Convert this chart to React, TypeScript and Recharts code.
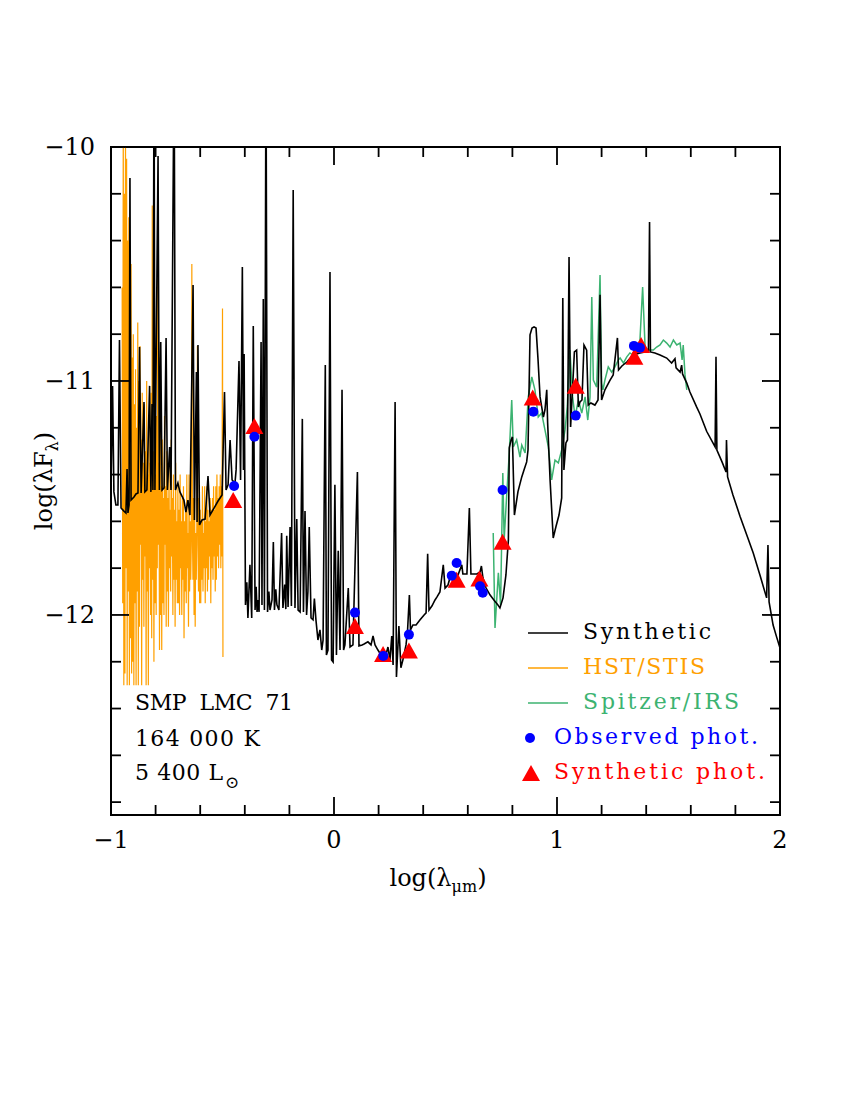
import React from "react";
import { ComposedChart, Line, Scatter, XAxis, YAxis, ReferenceArea } from "recharts";

// page + plot box (px)
const W = 850;
const H = 1100;
const PLOT = { left: 111, right: 780, top: 147, bottom: 815 };
const FONT = "'DejaVu Serif', serif";

const X_DOMAIN: [number, number] = [-1, 2];
const Y_DOMAIN: [number, number] = [-12.855, -10];
const xTicks = [-1, -0.8, -0.6, -0.4, -0.2, 0, 0.2, 0.4, 0.6, 0.8, 1, 1.2, 1.4, 1.6, 1.8, 2];
const yTicks = [-12.8, -12.6, -12.4, -12.2, -12, -11.8, -11.6, -11.4, -11.2, -11, -10.8, -10.6, -10.4, -10.2, -10];

// log(lambda_um), log(lambda F_lambda)
const synthetic: [number, number][] = [
  [-1.0, -11.474], [-0.993, -11.021], [-0.987, -11.474], [-0.978, -11.53], [-0.969, -11.53],
  [-0.962, -10.825], [-0.955, -11.543], [-0.942, -11.556], [-0.933, -11.564], [-0.928, -11.376],
  [-0.924, -11.564], [-0.919, -11.53], [-0.915, -10.132], [-0.91, -11.509], [-0.897, -11.496],
  [-0.888, -11.483], [-0.879, -11.479], [-0.872, -10.855], [-0.865, -11.479], [-0.852, -11.09],
  [-0.848, -11.474], [-0.839, -11.466], [-0.827, -11.021], [-0.821, -11.474], [-0.816, -11.098],
  [-0.812, -11.466], [-0.807, -9.6], [-0.803, -11.466], [-0.789, -10.038], [-0.783, -11.466],
  [-0.777, -10.833], [-0.771, -11.466], [-0.762, -11.457], [-0.753, -10.816], [-0.747, -11.466],
  [-0.737, -11.282], [-0.731, -11.466], [-0.717, -9.6], [-0.711, -11.466], [-0.7, -11.436],
  [-0.691, -11.474], [-0.673, -11.509], [-0.664, -11.56], [-0.655, -11.509], [-0.646, -11.573],
  [-0.632, -10.59], [-0.626, -11.594], [-0.617, -10.962], [-0.614, -11.603], [-0.61, -10.846],
  [-0.603, -11.615], [-0.592, -11.594], [-0.578, -11.59], [-0.565, -11.406], [-0.556, -11.573],
  [-0.538, -11.543], [-0.52, -11.513], [-0.502, -11.487], [-0.491, -11.047], [-0.484, -11.466],
  [-0.475, -11.444], [-0.466, -11.252], [-0.457, -11.423], [-0.444, -11.436], [-0.439, -11.38],
  [-0.426, -10.915], [-0.419, -11.423], [-0.411, -10.513], [-0.406, -11.38], [-0.403, -10.885],
  [-0.397, -11.957], [-0.391, -11.86], [-0.386, -12.013], [-0.377, -11.786], [-0.369, -12.013],
  [-0.362, -10.765], [-0.354, -11.979], [-0.349, -11.88], [-0.345, -11.987], [-0.341, -11.936],
  [-0.336, -11.987], [-0.327, -10.833], [-0.323, -11.957], [-0.317, -10.65], [-0.312, -11.979],
  [-0.305, -9.6], [-0.298, -11.987], [-0.292, -11.9], [-0.287, -11.979], [-0.278, -11.936],
  [-0.272, -11.688], [-0.267, -11.979], [-0.261, -11.89], [-0.256, -11.957], [-0.247, -11.979],
  [-0.235, -11.65], [-0.229, -11.97], [-0.221, -11.87], [-0.216, -11.975], [-0.212, -11.662],
  [-0.206, -11.966], [-0.197, -11.624], [-0.191, -11.962], [-0.183, -10.184], [-0.175, -11.97],
  [-0.167, -11.59], [-0.161, -11.979], [-0.152, -11.987], [-0.142, -11.162], [-0.137, -11.987],
  [-0.13, -11.556], [-0.123, -12.0], [-0.117, -11.9], [-0.111, -11.624], [-0.103, -12.013],
  [-0.094, -12.021], [-0.088, -11.93], [-0.081, -12.021], [-0.072, -12.107], [-0.063, -12.064],
  [-0.055, -12.15], [-0.049, -12.107], [-0.039, -10.932], [-0.034, -12.171], [-0.027, -12.15],
  [-0.018, -10.534], [-0.011, -12.192], [-0.004, -12.201], [0.004, -11.444], [0.011, -12.171],
  [0.019, -11.726], [0.027, -12.15], [0.036, -11.038], [0.043, -12.15], [0.049, -12.128],
  [0.064, -11.885], [0.072, -12.137], [0.085, -12.128], [0.105, -11.389], [0.112, -12.132],
  [0.126, -12.128], [0.135, -12.124], [0.152, -12.115], [0.166, -12.128], [0.175, -12.09],
  [0.184, -12.128], [0.197, -12.15], [0.211, -12.171], [0.22, -12.158], [0.229, -12.184],
  [0.242, -12.137], [0.251, -12.192], [0.259, -12.09], [0.265, -12.214], [0.274, -11.09],
  [0.28, -12.265], [0.291, -12.047], [0.3, -12.226], [0.309, -12.192], [0.323, -12.128],
  [0.33, -12.064], [0.338, -11.915], [0.343, -12.064], [0.354, -12.043], [0.368, -12.043],
  [0.386, -12.021], [0.404, -12.0], [0.413, -11.991], [0.42, -11.739], [0.426, -11.979],
  [0.439, -11.962], [0.453, -11.936], [0.462, -11.923], [0.475, -11.902], [0.49, -11.786],
  [0.498, -11.885], [0.511, -11.872], [0.52, -11.842], [0.529, -11.833], [0.543, -11.825],
  [0.556, -11.829], [0.573, -11.786], [0.578, -11.825], [0.596, -11.825], [0.607, -11.543],
  [0.614, -11.825], [0.628, -11.825], [0.641, -11.825], [0.655, -11.816], [0.661, -11.791],
  [0.668, -11.842], [0.682, -11.885], [0.7, -11.915], [0.717, -11.936], [0.735, -11.957],
  [0.744, -11.97], [0.758, -11.927], [0.771, -11.829], [0.782, -11.679], [0.786, -11.286],
  [0.794, -11.252], [0.8, -11.239], [0.809, -11.573], [0.825, -11.473], [0.842, -11.41],
  [0.852, -11.38], [0.864, -11.346], [0.87, -11.295], [0.879, -10.803], [0.888, -10.774],
  [0.897, -10.769], [0.906, -10.774], [0.915, -10.91], [0.924, -11.068], [0.939, -11.154],
  [0.946, -11.124], [0.954, -11.038], [0.958, -11.179], [0.969, -11.423], [0.983, -11.671],
  [0.996, -11.62], [1.009, -11.573], [1.021, -11.5], [1.026, -10.645], [1.031, -11.38],
  [1.04, -11.265], [1.047, -11.252], [1.054, -10.47], [1.061, -11.197], [1.067, -11.081],
  [1.078, -10.876], [1.088, -10.868], [1.096, -11.111], [1.103, -11.09], [1.112, -11.081],
  [1.121, -10.846], [1.133, -10.868], [1.14, -11.103], [1.152, -11.094], [1.17, -11.103],
  [1.184, -11.081], [1.193, -10.632], [1.2, -11.081], [1.215, -11.038], [1.238, -10.996],
  [1.252, -10.974], [1.271, -10.816], [1.276, -10.953], [1.291, -10.936], [1.313, -10.919],
  [1.341, -10.889], [1.372, -10.88], [1.395, -10.876], [1.41, -10.876], [1.415, -10.321],
  [1.419, -10.876], [1.439, -10.88], [1.462, -10.889], [1.492, -10.902], [1.514, -10.923],
  [1.529, -10.905], [1.534, -10.944], [1.552, -10.962], [1.559, -10.932], [1.563, -10.97],
  [1.582, -11.009], [1.596, -11.047], [1.626, -11.111], [1.641, -11.141], [1.671, -11.215],
  [1.709, -11.282], [1.713, -10.897], [1.717, -11.295], [1.74, -11.346], [1.758, -11.389],
  [1.76, -11.252], [1.765, -11.41], [1.789, -11.487], [1.821, -11.579], [1.851, -11.658],
  [1.88, -11.735], [1.91, -11.829], [1.94, -11.927], [1.946, -11.701], [1.951, -11.944],
  [1.969, -12.043], [1.986, -12.098], [2.0, -12.141],
];

const hstStis: [number, number][] = [
  [-0.95, -10.6], [-0.9475, -11.95], [-0.945, -9.8], [-0.9425, -12.3], [-0.94, -10.2],
  [-0.9375, -12.25], [-0.935, -9.9], [-0.9325, -11.8], [-0.93, -10.05], [-0.9275, -12.3],
  [-0.925, -10.4], [-0.9225, -11.9], [-0.92, -10.3], [-0.9175, -12.3], [-0.915, -10.7],
  [-0.9125, -12.1], [-0.91, -10.5], [-0.9075, -12.25], [-0.905, -10.9], [-0.9025, -12.2],
  [-0.9, -10.8], [-0.8975, -12.3], [-0.895, -11.1], [-0.8925, -11.95], [-0.89, -10.95],
  [-0.8875, -12.3], [-0.885, -11.2], [-0.8825, -11.9], [-0.88, -10.75], [-0.8775, -12.3],
  [-0.875, -11.0], [-0.8725, -12.05], [-0.87, -10.85], [-0.8675, -11.7], [-0.865, -11.25],
  [-0.8625, -12.3], [-0.86, -11.05], [-0.8575, -11.85], [-0.855, -11.35], [-0.8525, -12.05],
  [-0.85, -11.1], [-0.8475, -11.75], [-0.845, -11.3], [-0.8425, -12.3], [-0.84, -11.0],
  [-0.8375, -11.9], [-0.835, -11.4], [-0.8325, -12.3], [-0.83, -11.15], [-0.8275, -11.8],
  [-0.825, -11.35], [-0.8225, -12.0], [-0.82, -11.05], [-0.8175, -12.1], [-0.815, -10.25],
  [-0.8125, -11.85], [-0.81, -11.3], [-0.8075, -12.2], [-0.805, -11.2], [-0.8025, -11.95],
  [-0.8, -11.4], [-0.7975, -12.0], [-0.795, -11.15], [-0.7925, -11.8], [-0.79, -10.3],
  [-0.7875, -11.7], [-0.785, -11.35], [-0.7825, -12.15], [-0.78, -10.9], [-0.7775, -12.0],
  [-0.775, -11.45], [-0.7725, -12.15], [-0.77, -11.25], [-0.7675, -11.95], [-0.765, -11.5],
  [-0.7625, -12.0], [-0.76, -11.15], [-0.7575, -11.7], [-0.755, -11.45], [-0.7525, -12.05],
  [-0.75, -11.3], [-0.7475, -11.9], [-0.745, -11.5], [-0.7425, -12.05], [-0.74, -11.35],
  [-0.7375, -11.8], [-0.735, -11.55], [-0.7325, -11.9], [-0.73, -11.25], [-0.7275, -11.75],
  [-0.725, -11.5], [-0.7225, -12.0], [-0.72, -11.4], [-0.7175, -11.85], [-0.715, -11.55],
  [-0.7125, -12.05], [-0.71, -11.35], [-0.7075, -11.85], [-0.705, -11.6], [-0.7025, -11.95],
  [-0.7, -11.45], [-0.6975, -11.95], [-0.695, -11.55], [-0.6925, -12.0], [-0.69, -11.4],
  [-0.6875, -11.8], [-0.685, -11.6], [-0.6825, -12.0], [-0.68, -11.5], [-0.6775, -11.85],
  [-0.675, -11.45], [-0.6725, -12.1], [-0.67, -11.6], [-0.6675, -11.9], [-0.665, -11.55],
  [-0.6625, -11.95], [-0.66, -11.4], [-0.6575, -11.8], [-0.655, -11.65], [-0.6525, -12.05],
  [-0.65, -11.4], [-0.6475, -11.9], [-0.645, -11.6], [-0.6425, -11.85], [-0.64, -11.7],
  [-0.6375, -10.5], [-0.635, -11.65], [-0.6325, -11.85], [-0.63, -11.5], [-0.6275, -12.0],
  [-0.625, -11.5], [-0.6225, -12.05], [-0.62, -11.65], [-0.6175, -11.85], [-0.615, -11.6],
  [-0.6125, -10.85], [-0.61, -11.7], [-0.6075, -11.9], [-0.605, -11.5], [-0.6025, -11.95],
  [-0.6, -11.55], [-0.5975, -11.95], [-0.595, -11.6], [-0.5925, -11.85], [-0.59, -11.45],
  [-0.5875, -11.9], [-0.585, -11.65], [-0.5825, -11.8], [-0.58, -11.45], [-0.5775, -11.95],
  [-0.575, -11.6], [-0.5725, -11.8], [-0.57, -11.45], [-0.5675, -11.9], [-0.565, -11.55],
  [-0.5625, -11.85], [-0.56, -11.6], [-0.5575, -11.75], [-0.555, -11.5], [-0.5525, -11.95],
  [-0.55, -11.55], [-0.5475, -11.8], [-0.545, -11.5], [-0.5425, -11.85], [-0.54, -11.45],
  [-0.5375, -11.75], [-0.535, -11.55], [-0.5325, -11.9], [-0.53, -11.45], [-0.5275, -11.85],
  [-0.525, -11.4], [-0.5225, -11.75], [-0.52, -11.5], [-0.5175, -11.8], [-0.515, -11.45],
  [-0.5125, -11.7], [-0.51, -11.4], [-0.5075, -11.8], [-0.505, -11.45], [-0.5025, -11.75],
  [-0.5, -10.69], [-0.498, -12.18],
];

const spitzerIrs: [number, number][] = [
  [0.714, -11.65], [0.722, -12.056], [0.737, -11.82], [0.747, -11.957], [0.757, -11.393],
  [0.763, -11.679], [0.775, -11.479], [0.786, -11.308], [0.797, -11.081], [0.804, -11.282],
  [0.819, -11.252], [0.834, -11.325], [0.842, -11.274], [0.857, -11.308], [0.871, -11.068],
  [0.887, -10.983], [0.901, -11.038], [0.916, -11.154], [0.931, -11.137], [0.946, -11.209],
  [0.961, -11.282], [0.976, -11.423], [0.991, -11.338], [1.006, -11.35], [1.021, -11.295],
  [1.036, -11.209], [1.046, -11.111], [1.058, -10.868], [1.07, -11.068], [1.081, -11.154],
  [1.096, -11.081], [1.111, -11.137], [1.126, -11.068], [1.138, -11.167], [1.148, -11.068],
  [1.156, -10.641], [1.163, -10.996], [1.178, -11.026], [1.193, -10.547], [1.2, -11.009],
  [1.206, -11.038], [1.215, -10.996], [1.23, -10.94], [1.245, -10.962], [1.26, -10.94],
  [1.275, -10.91], [1.283, -10.902], [1.298, -10.923], [1.313, -10.897], [1.327, -10.88],
  [1.341, -10.889], [1.356, -10.868], [1.372, -10.825], [1.384, -10.598], [1.395, -10.855],
  [1.408, -10.868], [1.432, -10.868], [1.447, -10.855], [1.462, -10.846], [1.477, -10.825],
  [1.492, -10.838], [1.507, -10.855], [1.522, -10.825], [1.537, -10.846], [1.552, -10.838],
  [1.561, -10.91], [1.566, -10.846], [1.574, -10.974], [1.582, -11.038],
];

const observedPhot: [number, number][] = [
  [-0.448, -11.449], [-0.357, -11.238], [0.094, -11.99], [0.221, -12.175], [0.336, -12.084],
  [0.528, -11.832], [0.55, -11.778], [0.655, -11.877], [0.667, -11.905], [0.756, -11.466],
  [0.894, -11.131], [1.084, -11.148], [1.345, -10.85], [1.372, -10.858],
];

const syntheticPhot: [number, number][] = [
  [-0.452, -11.509], [-0.357, -11.192], [0.094, -12.047], [0.22, -12.167], [0.336, -12.152],
  [0.55, -11.85], [0.652, -11.844], [0.756, -11.687], [0.891, -11.071], [1.084, -11.02],
  [1.347, -10.896], [1.377, -10.846],
];

const toPoints = (arr: [number, number][]) => arr.map(([x, y]) => ({ x, y }));

const isMajor = (v: number) => Math.abs(v - Math.round(v)) < 1e-6;
const fmt = (v: number) => (v < 0 ? "\u2212" : "") + Math.abs(Math.round(v));

const XTick = (props: any) => {
  const { x, y, payload } = props;
  const major = isMajor(payload.value);
  const len = major ? 18 : 10;
  return (
    <g>
      <line x1={x} x2={x} y1={y} y2={y - len} stroke="#000" strokeWidth={1.8} />
      <line x1={x} x2={x} y1={PLOT.top} y2={PLOT.top + len} stroke="#000" strokeWidth={1.8} />
      {major && (
        <text x={x} y={y + 33} textAnchor="middle" fontFamily={FONT} fontSize={24} fill="#000">
          {fmt(payload.value)}
        </text>
      )}
    </g>
  );
};

const YTick = (props: any) => {
  const { x, y, payload } = props;
  const major = isMajor(payload.value);
  const len = major ? 18 : 10;
  return (
    <g>
      <line x1={x} x2={x + len} y1={y} y2={y} stroke="#000" strokeWidth={1.8} />
      <line x1={PLOT.right} x2={PLOT.right - len} y1={y} y2={y} stroke="#000" strokeWidth={1.8} />
      {major && (
        <text x={x - 16} y={y + 8} textAnchor="end" fontFamily={FONT} fontSize={24} fill="#000">
          {fmt(payload.value)}
        </text>
      )}
    </g>
  );
};

const Dot = (p: any) => <circle cx={p.cx} cy={p.cy} r={5} fill="#0000ff" />;
const Tri = (p: any) => (
  <polygon
    points={`${p.cx - 9},${p.cy + 8} ${p.cx + 9},${p.cy + 8} ${p.cx},${p.cy - 8}`}
    fill="#ff0000"
  />
);

const ORANGE = "#ffa000";
const GREEN = "#3cb371";

const legendRows = [
  { label: "Synthetic", color: "#000000", kind: "line", y: 633 },
  { label: "HST/STIS", color: ORANGE, kind: "line", y: 668 },
  { label: "Spitzer/IRS", color: GREEN, kind: "line", y: 703 },
  { label: "Observed phot.", color: "#0000ff", kind: "dot", y: 738 },
  { label: "Synthetic phot.", color: "#ff0000", kind: "tri", y: 773 },
];
const legendWidths = [128, 122, 156, 204, 211];

export default function App() {
  return (
    <div style={{ position: "absolute", left: 0, top: 0, width: W, height: H, background: "#fff" }}>
      <ComposedChart
        width={W}
        height={H}
        margin={{ top: PLOT.top, right: W - PLOT.right, bottom: 225, left: 51 }}
      >
        <XAxis
          type="number"
          dataKey="x"
          domain={X_DOMAIN}
          ticks={xTicks}
          interval={0}
          allowDataOverflow
          height={60}
          tickSize={0}
          tickMargin={0}
          axisLine={false}
          tickLine={false}
          tick={<XTick />}
        />
        <YAxis
          type="number"
          dataKey="y"
          domain={Y_DOMAIN}
          ticks={yTicks}
          interval={0}
          allowDataOverflow
          width={60}
          tickSize={0}
          tickMargin={0}
          axisLine={false}
          tickLine={false}
          tick={<YTick />}
        />
        <Line
          data={toPoints(hstStis)}
          dataKey="y"
          type="linear"
          stroke={ORANGE}
          strokeWidth={1.2}
          dot={false}
          isAnimationActive={false}
        />
        <Line
          data={toPoints(spitzerIrs)}
          dataKey="y"
          type="linear"
          stroke={GREEN}
          strokeWidth={1.5}
          dot={false}
          isAnimationActive={false}
        />
        <Line
          data={toPoints(synthetic)}
          dataKey="y"
          type="linear"
          stroke="#000"
          strokeWidth={1.6}
          dot={false}
          isAnimationActive={false}
        />
        <Scatter data={toPoints(syntheticPhot)} shape={<Tri />} isAnimationActive={false} />
        <Scatter data={toPoints(observedPhot)} shape={<Dot />} isAnimationActive={false} />
        <ReferenceArea
          x1={X_DOMAIN[0]}
          x2={X_DOMAIN[1]}
          y1={Y_DOMAIN[0]}
          y2={Y_DOMAIN[1]}
          fill="none"
          fillOpacity={0}
          stroke="#000"
          strokeWidth={2}
          ifOverflow="visible"
        />
      </ComposedChart>

      <svg
        width={W}
        height={H}
        style={{ position: "absolute", left: 0, top: 0, pointerEvents: "none" }}
        fontFamily={FONT}
      >
        {/* axis titles */}
        <text x={438} y={886} textAnchor="middle" fontSize={24}>
          log(λ<tspan fontSize={16} dy={6}>μm</tspan>
          <tspan dy={-6}>)</tspan>
        </text>
        <text x={52} y={481} textAnchor="middle" fontSize={24} transform="rotate(-90 52 481)">
          log(λF<tspan fontSize={16} dy={6}>λ</tspan>
          <tspan dy={-6}>)</tspan>
        </text>

        {/* object info */}
        <text x={135} y={710} fontSize={22} textLength={158} lengthAdjust="spacing" style={{ whiteSpace: "pre" }}>
          SMP  LMC  71
        </text>
        <text x={135} y={746} fontSize={22} textLength={125} lengthAdjust="spacing">
          164 000 K
        </text>
        <text x={135} y={780} fontSize={22} textLength={88} lengthAdjust="spacing">
          5 400 L
        </text>
        <text x={225} y={788} fontSize={17}>⊙</text>

        {/* legend */}
        {legendRows.map((r, i) => (
          <g key={r.label}>
            {r.kind === "line" && (
              <line x1={528} x2={568} y1={r.y} y2={r.y} stroke={r.color} strokeWidth={r.color === "#000000" ? 1.6 : 1.3} />
            )}
            {r.kind === "dot" && <circle cx={530} cy={r.y} r={5} fill={r.color} />}
            {r.kind === "tri" && (
              <polygon points={`${531 - 9},${r.y + 8} ${531 + 9},${r.y + 8} ${531},${r.y - 8}`} fill={r.color} />
            )}
            <text
              x={r.kind === "line" ? 583 : 554}
              y={r.y + 6}
              fontSize={22}
              fill={r.color}
              textLength={legendWidths[i]}
              lengthAdjust="spacing"
            >
              {r.label}
            </text>
          </g>
        ))}
      </svg>
    </div>
  );
}
